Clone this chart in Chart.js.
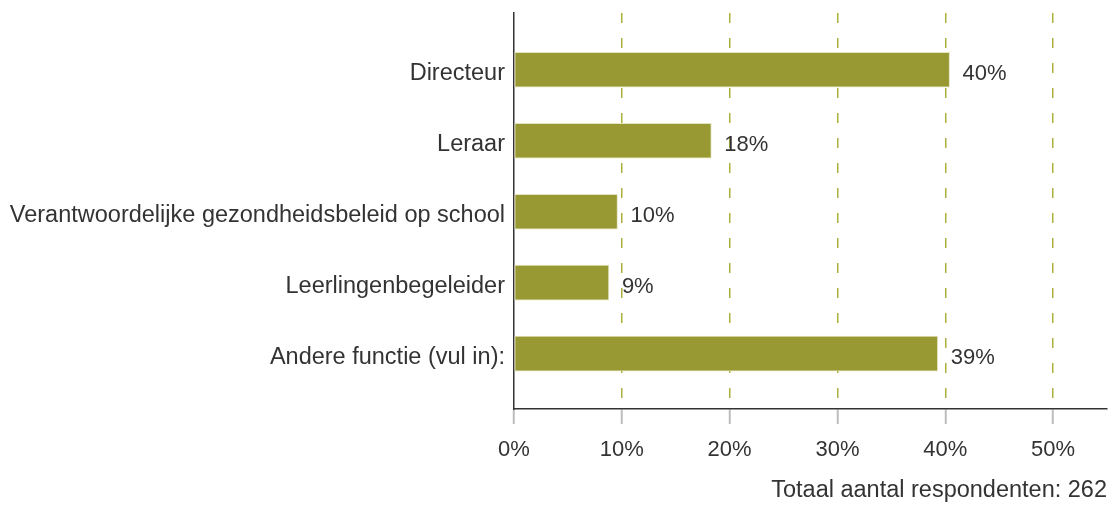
<!DOCTYPE html>
<html>
<head>
<meta charset="utf-8">
<script src="https://cdn.jsdelivr.net/npm/chart.js@4.4.1/dist/chart.umd.min.js"></script>
<style>
  body { margin: 0; background: #fff; }
  #wrap { width: 1109px; height: 505px; }
</style>
</head>
<body>
<div id="wrap"><canvas id="functieChart" width="1109" height="505"></canvas></div>
<script>
// categorieen en percentages
var categories = ['Directeur', 'Leraar', 'Verantwoordelijke gezondheidsbeleid op school', 'Leerlingenbegeleider', 'Andere functie (vul in):'];
var percentages = [40.4, 18.3, 9.6, 8.8, 39.3];
var xTicks = [0, 10, 20, 30, 40, 50];
var footerText = 'Totaal aantal respondenten: 262';

var barColor = '#999933';
var gridColor = '#abaf3c';
var textColor = '#333333';

// data als {x, y} zodat de y-as lineair kan zijn (extra ruimte boven en onder)
var points = [];
for (var i = 0; i < categories.length; i++) {
    points.push({ x: percentages[i], y: i });
}

// percentage labels rechts naast de balken
var valueLabels = {
    id: 'valueLabels',
    afterDatasetsDraw: function (chart) {
        var ctx = chart.ctx;
        var meta = chart.getDatasetMeta(0);
        ctx.save();
        ctx.font = '22px "Liberation Sans", Arial, sans-serif';
        ctx.fillStyle = textColor;
        ctx.textAlign = 'left';
        ctx.textBaseline = 'middle';
        meta.data.forEach(function (bar, idx) {
            ctx.fillText(Math.round(percentages[idx]) + '%', bar.x + 13, bar.y + 4);
        });
        ctx.restore();
    }
};

var ctx = document.getElementById('functieChart').getContext('2d');
var myChart = new Chart(ctx, {
    type: 'bar',
    data: {
        datasets: [{
            data: points,
            backgroundColor: barColor,
            borderColor: 'rgba(225,225,185,0.9)',
            borderWidth: 1,
            borderSkipped: false,
            barThickness: 35
        }]
    },
    options: {
        indexAxis: 'y',
        responsive: false,
        animation: false,
        layout: { padding: { top: 13, right: 2, bottom: 0, left: 0 } },
        plugins: {
            legend: { display: false },
            tooltip: { enabled: false }
        },
        scales: {
            y: {
                type: 'linear',
                reverse: true,
                offset: false,
                min: -0.8,
                max: 4.78,
                afterBuildTicks: function (scale) {
                    scale.ticks = categories.map(function (c, i) { return { value: i }; });
                },
                afterFit: function (scale) {
                    scale.width = 514;
                    scale.paddingTop = 0;
                    scale.paddingBottom = 0;
                },
                ticks: {
                    callback: function (value) { return categories[value]; },
                    color: textColor,
                    padding: 9,
                    labelOffset: 4,
                    font: { family: '"Liberation Sans", Arial, sans-serif', size: 23.5 }
                },
                grid: { display: false, drawTicks: false, offset: false },
                border: { display: true, color: '#333333', width: 1.5 }
            },
            x: {
                type: 'linear',
                min: 0,
                max: 55,
                afterBuildTicks: function (scale) {
                    scale.ticks = xTicks.map(function (v) { return { value: v }; });
                },
                afterFit: function (scale) {
                    scale.height = 96;
                },
                ticks: {
                    callback: function (value) { return value + '%'; },
                    color: textColor,
                    padding: 13,
                    maxRotation: 0,
                    font: { family: '"Liberation Sans", Arial, sans-serif', size: 22 }
                },
                grid: {
                    color: function (c) {
                        return (c.tick && c.tick.value === 0) ? 'rgba(0,0,0,0)' : gridColor;
                    },
                    lineWidth: 1.5,
                    drawTicks: true,
                    tickLength: 15,
                    tickColor: '#bdbdbd',
                    tickWidth: 2,
                    tickBorderDash: []
                },
                border: { display: true, color: '#333333', width: 1.5, dash: [10, 15] },
                title: {
                    display: true,
                    text: footerText,
                    align: 'end',
                    color: textColor,
                    padding: { top: 0, bottom: 0 },
                    font: { family: '"Liberation Sans", Arial, sans-serif', size: 23.5 }
                }
            }
        }
    },
    plugins: [valueLabels]
});
</script>
</body>
</html>
